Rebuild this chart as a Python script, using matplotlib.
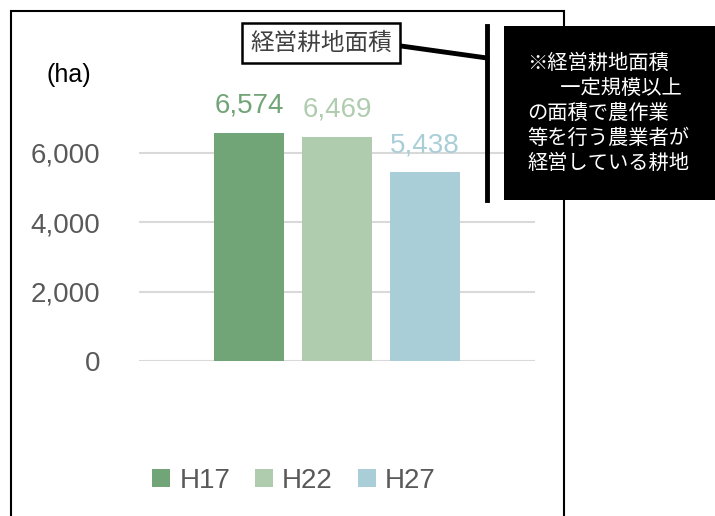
import matplotlib
matplotlib.use("Agg")
import matplotlib.pyplot as plt
from matplotlib.patches import Rectangle, Patch
from matplotlib.lines import Line2D
from matplotlib.ticker import FuncFormatter

plt.rcParams['font.family'] = ['Liberation Sans', 'Noto Sans CJK JP', 'DejaVu Sans']

series = ["H17", "H22", "H27"]
values = [6574, 6469, 5438]
colors = ["#71A476", "#AFCCAF", "#A9CED7"]
yticks = [0, 2000, 4000, 6000]
unit_label = "(ha)"
callout_label = "経営耕地面積"
note_lines = ["※経営耕地面積", "　一定規模以上", "の面積で農作業", "等を行う農業者が", "経営している耕地"]

W, H = 715, 516
fig = plt.figure(figsize=(W / 100, H / 100), dpi=100)

def fx(x):
    return x / W

def fy(y):
    return 1 - y / H

# axes
ax = fig.add_axes([fx(139), fy(361), (535 - 139) / W, (361 - 118.3) / H])
ax.set_xlim(-0.5, 0.5)
ax.set_ylim(0, 7000)
offsets = [-0.2222, 0.0, 0.2222]
bw = 70 / 396
for off, v, c, s in zip(offsets, values, colors, series):
    ax.bar(off, v, width=bw, color=c, label=s, zorder=3)
    ax.annotate(f"{v:,}", (off, v), xytext=(0, 14.5), textcoords="offset points",
                ha="center", va="baseline", fontsize=20, color=c)
ax.set_yticks(yticks)
ax.yaxis.set_major_formatter(FuncFormatter(lambda v, p: f"{int(v):,}"))
ax.tick_params(axis="y", length=0, pad=28, labelsize=20, labelcolor="#595959")
ax.set_xticks([])
for sp in ax.spines.values():
    sp.set_visible(False)
ax.grid(axis="y", color="#D9D9D9", linewidth=1.5, zorder=0)
ax.set_axisbelow(True)

# unit label
fig.text(fx(69), fy(75), unit_label, ha="center", va="center", fontsize=18, color="black")

# legend
handles = [Patch(facecolor=c, edgecolor="none") for c in colors]
fig.legend(handles, series, loc="center", bbox_to_anchor=(fx(294), fy(481)), ncol=3,
           frameon=False, fontsize=20, labelcolor="#595959", handlelength=0.64,
           handleheight=0.64, handletextpad=0.33, columnspacing=0.9)

# outer frame
fig.patches.append(Rectangle((fx(11), fy(530)), fx(564) - fx(11), fy(11) - fy(530),
                             transform=fig.transFigure, fill=False, edgecolor="black",
                             linewidth=1.5, zorder=1))

# callout label box
fig.text(fx(321), fy(43), callout_label, ha="center", va="center", fontsize=17,
         color="#404040", family=["Noto Sans CJK JP", "DejaVu Sans"],
         bbox=dict(boxstyle="square,pad=0.36", facecolor="white", edgecolor="black", linewidth=1.8),
         zorder=5)

# connector lines
fig.lines.append(Line2D([fx(401), fx(487)], [fy(46), fy(58)], transform=fig.transFigure,
                        color="black", linewidth=3.5, zorder=4))
fig.lines.append(Line2D([fx(487), fx(487)], [fy(26), fy(200)], transform=fig.transFigure,
                        color="black", linewidth=3.5, zorder=4))

# black note box
fig.patches.append(Rectangle((fx(504), fy(200)), fx(715) - fx(504), fy(26) - fy(200),
                             transform=fig.transFigure, facecolor="black", edgecolor="none",
                             zorder=6))
line_x = [527, 540, 527, 527, 527]
line_y = [63, 88, 113, 138, 163]
for t, x, y in zip(note_lines, line_x, line_y):
    fig.text(fx(x), fy(y), t, ha="left", va="center", fontsize=14.6, color="white",
             family=["Noto Sans CJK JP", "DejaVu Sans"], zorder=7)

fig.savefig("out.png", dpi=100)
